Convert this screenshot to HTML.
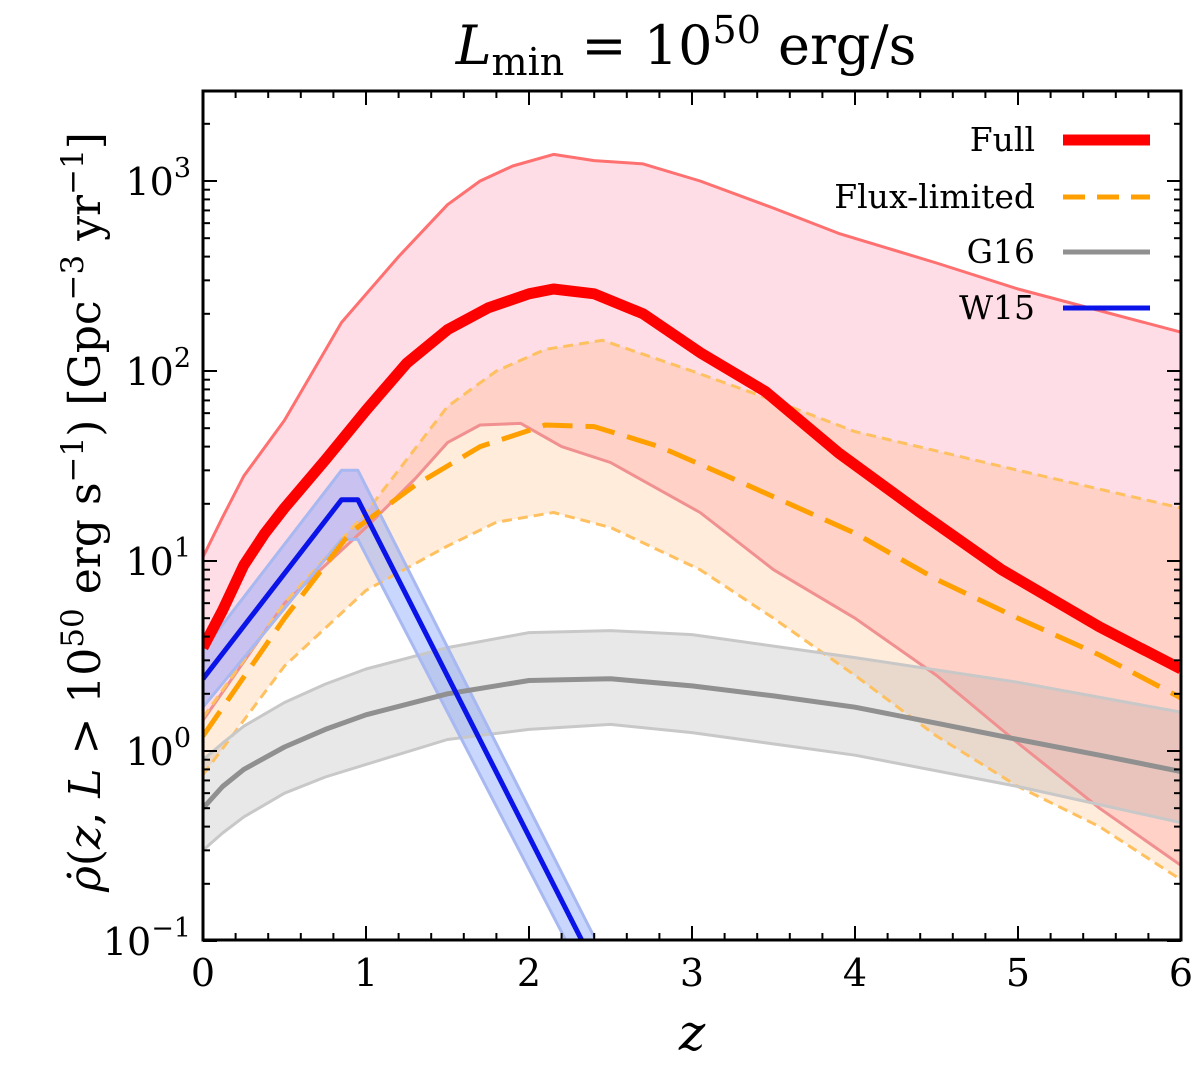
<!DOCTYPE html>
<html><head><meta charset="utf-8"><style>
body{margin:0;background:#fff}
svg{display:block;font-family:"DejaVu Serif","Liberation Serif",serif}
</style></head><body>
<svg id="c" width="1200" height="1067"></svg>
<script>
const fullZ=[0,0.12,0.25,0.38,0.5,0.75,1,1.25,1.5,1.75,2,2.15,2.4,2.7,3.05,3.45,3.9,4.4,4.9,5.5,6];
const fullV=[3.5,5.5,9.5,14,19,34,62,110,165,215,255,270,255,200,125,78,37,18,9,4.5,2.7];
const fullUpZ=[0,0.12,0.25,0.5,0.85,1.2,1.5,1.7,1.9,2.15,2.4,2.7,3.05,3.5,3.9,4.5,5,6];
const fullUpV=[10.5,17,28,55,180,400,750,1000,1200,1380,1280,1230,1000,720,530,370,270,160];
const fullLoZ=[0,0.5,1,1.3,1.5,1.7,1.95,2.2,2.5,3.05,3.5,4,4.5,5,5.5,6];
const fullLoV=[1.45,6,15,27,42,52,53,40,33,18,9,5,2.5,1.1,0.5,0.25];
const fluxZ=[0,0.5,0.9,1.3,1.7,2.1,2.4,2.8,3.3,4,4.5,5,5.5,6];
const fluxV=[1.2,5,14,25,40,52,51,40,26,14,8,5,3.2,1.9];
const fluxUpZ=[0,0.5,1,1.5,1.8,2.1,2.45,3,3.5,4,5,6];
const fluxUpV=[1.5,6,18,65,100,130,145,100,70,48,30,19];
const fluxLoZ=[0,0.5,1,1.5,1.8,2.15,2.5,3.05,3.5,4,4.5,5,5.5,6];
const fluxLoV=[0.75,2.8,7,12,16,18,15,9,5,2.5,1.2,0.65,0.4,0.21];
const g16Z=[0,0.12,0.25,0.5,0.75,1,1.5,2,2.5,3,3.5,4,4.5,5,5.5,6];
const g16V=[0.5,0.65,0.8,1.05,1.3,1.55,2.0,2.35,2.4,2.2,1.95,1.7,1.4,1.15,0.95,0.78];
const g16UpZ=[0,0.12,0.25,0.5,0.75,1,1.5,2,2.5,3,4,5,6];
const g16UpV=[0.9,1.1,1.35,1.8,2.25,2.7,3.5,4.2,4.3,4.1,3.1,2.3,1.6];
const g16LoZ=[0,0.12,0.25,0.5,0.75,1,1.5,2,2.5,3,4,5,6];
const g16LoV=[0.3,0.37,0.45,0.6,0.73,0.85,1.15,1.3,1.38,1.25,0.95,0.65,0.42];
const w15Z=[0,0.85,0.95,2.4];
const w15V=[2.4,21,21,0.075];
const w15UpV=[3.4,30,30,0.105];
const w15LoV=[1.7,13,13,0.052];
const xTicks=[0,1,2,3,4,5,6];
const yExp=[-1,0,1,2,3];

const L=203,R=1181,T=91,B=940;
const X=z=>L+(R-L)*z/6;
const Y=v=>751-190*Math.log10(v);
const ns="http://www.w3.org/2000/svg";
const svg=document.getElementById('c');
function el(t,a,p){const e=document.createElementNS(ns,t);for(const k in a)e.setAttribute(k,a[k]);(p||svg).appendChild(e);return e;}
const defs=el('defs',{});const cp=el('clipPath',{id:'cl'},defs);el('rect',{x:L,y:T,width:R-L,height:B-T},cp);
const g=el('g',{'clip-path':'url(#cl)'});
function pts(zs,vs){return zs.map((z,i)=>X(z).toFixed(1)+','+Y(vs[i]).toFixed(1));}
function band(z1,v1,z2,v2,fill,name){
 const p=el('polygon',{points:pts(z1,v1).concat(pts(z2,v2).reverse()).join(' '),fill:fill},g);
 
 }
function line(zs,vs,st,name){const a=Object.assign({points:pts(zs,vs).join(' '),fill:'none','stroke-linejoin':'round'},st);
 const p=el('polyline',a,g);
 
 }
band(fullUpZ,fullUpV,fullLoZ,fullLoV,'rgba(255,100,140,0.22)','full-band');
band(fluxUpZ,fluxUpV,fluxLoZ,fluxLoV,'rgba(255,170,90,0.22)','flux-band');
band(g16UpZ,g16UpV,g16LoZ,g16LoV,'rgba(150,150,150,0.22)','g16-band');
band(w15Z,w15UpV,w15Z,w15LoV,'rgba(100,140,255,0.35)','w15-band');
line(fullUpZ,fullUpV,{stroke:'#ff7070','stroke-width':3},'full-upper');
line(fullLoZ,fullLoV,{stroke:'#f09090','stroke-width':3},'full-lower');
line(fluxUpZ,fluxUpV,{stroke:'#ffc060','stroke-width':3,'stroke-dasharray':'10,6'},'flux-upper');
line(fluxLoZ,fluxLoV,{stroke:'#ffc060','stroke-width':3,'stroke-dasharray':'10,6'},'flux-lower');
line(g16UpZ,g16UpV,{stroke:'#c8c8c8','stroke-width':3},'g16-upper');
line(g16LoZ,g16LoV,{stroke:'#c8c8c8','stroke-width':3},'g16-lower');
line(w15Z,w15UpV,{stroke:'#a8b8f0','stroke-width':3},'w15-upper');
line(w15Z,w15LoV,{stroke:'#a8b8f0','stroke-width':3},'w15-lower');
line(fullZ,fullV,{stroke:'#ff0000','stroke-width':11},'full-line');
line(fluxZ,fluxV,{stroke:'#ffa000','stroke-width':5,'stroke-dasharray':'30,13'},'flux-line');
line(g16Z,g16V,{stroke:'#909090','stroke-width':5},'g16-line');
line(w15Z,w15V,{stroke:'#0a14e8','stroke-width':5},'w15-line');

const fr=el('rect',{x:L,y:T,width:R-L,height:B-T,fill:'none',stroke:'#000','stroke-width':3});

for(let z=0;z<=6.001;z+=0.2){const x=X(z);const maj=Math.abs(z-Math.round(z))<1e-6;const l=maj?14:7;
 el('line',{x1:x,y1:B,x2:x,y2:B-l,stroke:'#000','stroke-width':2});el('line',{x1:x,y1:T,x2:x,y2:T+l,stroke:'#000','stroke-width':2});}
xTicks.forEach(t=>{const e=el('text',{x:X(t),y:B+46,'text-anchor':'middle','font-size':38});e.textContent=t;
 });
for(let d=-1;d<=3;d++)for(let m=1;m<10;m++){const y=Y(m*Math.pow(10,d));if(y<T)continue;const l=m==1?14:7;
 el('line',{x1:L,y1:y,x2:L+l,y2:y,stroke:'#000','stroke-width':2});el('line',{x1:R,y1:y,x2:R-l,y2:y,stroke:'#000','stroke-width':2});}
yExp.forEach(e=>{const t=el('text',{x:L-12,y:Y(Math.pow(10,e))+14,'text-anchor':'end','font-size':38});
 t.innerHTML='10<tspan dy="-18" font-size="27">'+(e<0?'−'+(-e):e)+'</tspan>';
 });
let t=el('text',{x:692,y:1050,'text-anchor':'middle','font-size':50,'font-style':'italic'});t.textContent='z';

t=el('text',{x:0,y:0,'text-anchor':'middle','font-size':44,transform:'translate(100,512) rotate(-90)'});
t.innerHTML='<tspan font-style="italic">ρ̇</tspan>(<tspan font-style="italic">z</tspan>, <tspan font-style="italic">L</tspan> &gt; 10<tspan dy="-17" font-size="31">50</tspan><tspan dy="17"> erg s</tspan><tspan dy="-17" font-size="31">−1</tspan><tspan dy="17">) [Gpc</tspan><tspan dy="-17" font-size="31">−3</tspan><tspan dy="17"> yr</tspan><tspan dy="-17" font-size="31">−1</tspan><tspan dy="17">]</tspan>';

t=el('text',{x:686,y:64,'text-anchor':'middle','font-size':54});
t.innerHTML='<tspan font-style="italic">L</tspan><tspan dy="11" font-size="38">min</tspan><tspan dy="-11"> = 10</tspan><tspan dy="-21" font-size="38">50</tspan><tspan dy="21"> erg/s</tspan>';

const leg=[['Full',140,{stroke:'#ff0000','stroke-width':11}],['Flux-limited',197,{stroke:'#ffa000','stroke-width':5,'stroke-dasharray':'22,12'}],['G16',252,{stroke:'#909090','stroke-width':5}],['W15',308,{stroke:'#0a14e8','stroke-width':5}]];
leg.forEach(([n,y,st])=>{const gg=el('g',{});
 el('line',Object.assign({x1:1063,y1:y,x2:1150,y2:y},st),gg);
 const tt=el('text',{x:1035,y:y+11,'text-anchor':'end','font-size':33},gg);tt.textContent=n;});
</script>
</body></html>
